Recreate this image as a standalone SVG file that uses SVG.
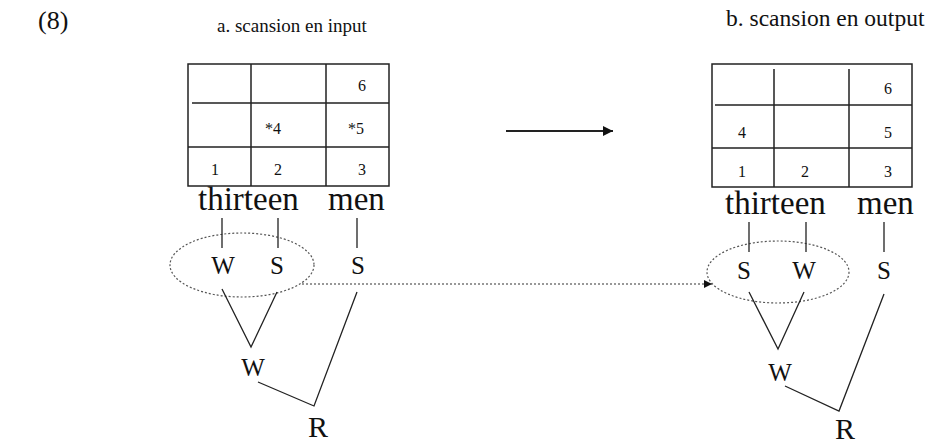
<svg xmlns="http://www.w3.org/2000/svg" width="935" height="445" viewBox="0 0 935 445">
<defs>
<style>
text{font-family:"Liberation Serif","Times New Roman",serif;fill:#111}
.t{font-size:19px}
.n{font-size:16px;text-anchor:middle}
.w{font-size:33px}
.l{font-size:25px;text-anchor:middle}
.r{font-size:30px;text-anchor:middle}
.g{stroke:#222;stroke-width:1.5;fill:none}
.e{stroke:#555;stroke-width:1.2;fill:none;stroke-dasharray:2 2}
.k{stroke:#222;stroke-width:1.3;fill:none}
</style>
<marker id="ah" viewBox="0 0 10 10" refX="10" refY="5" markerWidth="10" markerHeight="8" markerUnits="userSpaceOnUse" orient="auto"><path d="M0,0L10,5L0,10z" fill="#111"/></marker>
<marker id="ah2" viewBox="0 0 10 10" refX="10" refY="5" markerWidth="11" markerHeight="10" markerUnits="userSpaceOnUse" orient="auto"><path d="M0,0L10,5L0,10z" fill="#111"/></marker>
</defs>
<text x="38" y="29" style="font-size:26px">(8)</text>
<g id="titleA"><text class="t" x="217" y="32">a. scansion en input</text></g>
<g id="titleB"><text class="t" x="726" y="26" style="font-size:23.5px">b. scansion en output</text></g>
<g id="gridA">
<rect class="g" x="188" y="64" width="201" height="122"/>
<path class="g" d="M192,103H389M188,147H389M251,64V186M326,64V186"/>
<text class="n" x="362" y="91">6</text>
<text class="n" x="273" y="134">*4</text>
<text class="n" x="356" y="134">*5</text>
<text class="n" x="215" y="175">1</text>
<text class="n" x="278" y="175">2</text>
<text class="n" x="362" y="175">3</text>
</g>
<g id="gridB">
<rect class="g" x="712" y="64" width="200" height="123"/>
<path class="g" d="M715,105H912M712,148H912M774,69V187M849,69V187"/>
<text class="n" x="888" y="94">6</text>
<text class="n" x="742" y="138">4</text>
<text class="n" x="888" y="138">5</text>
<text class="n" x="742" y="177">1</text>
<text class="n" x="805" y="177">2</text>
<text class="n" x="888" y="177">3</text>
</g>
<g id="wordsA">
<text class="w" x="198" y="210">thirteen</text>
<text class="w" x="328" y="210">men</text>
</g>
<g id="wordsB">
<text class="w" x="725" y="214">thirteen</text>
<text class="w" x="857" y="214">men</text>
</g>
<g id="labelsA">
<text class="l" x="223" y="274">W</text>
<text class="l" x="277" y="274">S</text>
<text class="l" x="358" y="274">S</text>
<text class="l" x="253" y="376">W</text>
<text class="r" x="318" y="437">R</text>
</g>
<g id="labelsB">
<text class="l" x="744" y="279">S</text>
<text class="l" x="804" y="279">W</text>
<text class="l" x="884" y="279">S</text>
<text class="l" x="780" y="381">W</text>
<text class="r" x="845" y="439">R</text>
</g>
<g id="connectors">
<ellipse class="e" cx="242" cy="265" rx="72" ry="32"/>
<ellipse class="e" cx="778" cy="272" rx="71" ry="31"/>
<path class="k" d="M222,218V248M278,218V248M357,218V248"/>
<path class="k" d="M749,222V252M806,222V252M884,222V252"/>
<path class="k" d="M222,289L251,347L277,292"/>
<path class="k" d="M258,382L314,406L357,292"/>
<path class="k" d="M749,292L778,349L804,292"/>
<path class="k" d="M785,386L839,411L884,294"/>
<path class="k" d="M506,131H613" marker-end="url(#ah2)" style="stroke-width:2"/>
<path class="e" d="M302,284H712" style="stroke:#333" marker-end="url(#ah)"/>
</g>
</svg>
